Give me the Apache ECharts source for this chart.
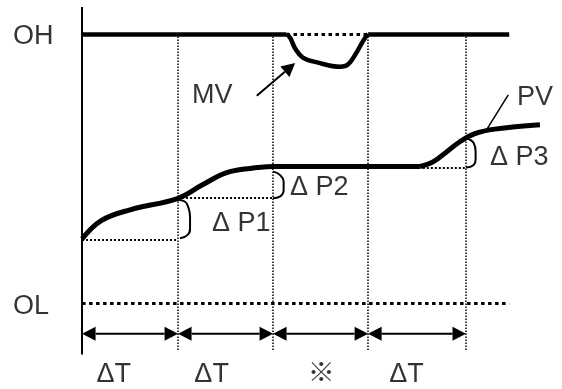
<!DOCTYPE html>
<html><head><meta charset="utf-8">
<script src="https://cdn.jsdelivr.net/npm/echarts@6/dist/echarts.min.js"></script>
<style>html,body{margin:0;padding:0;background:#fff}#c{width:562px;height:389px}</style>
</head><body><div id="c"></div>
<script>
// x: time in units of ΔT (0 = vertical axis); y: level in % (OL = 0, OH = 100)
const levelNames = ['OH', 'OL'];
const levelValues = [100, 0];
const dividerT = [1.0, 1.99, 2.98, 4.0];
const intervalLabels = ['ΔT', 'ΔT', '※', 'ΔT'];
const lineEndT = 4.45;

// MV: flat at OH, dip between these points
const mvDipT = [2.13, 2.17, 2.22, 2.3, 2.45, 2.69, 2.77, 2.85, 2.93, 2.98];
const mvDipY = [100, 98.4, 94.6, 91.2, 89.4, 87.8, 88.6, 92.5, 97.5, 100];

// PV: first rise, plateau, second rise
const pvRise1T = [0, 0.2, 0.5, 1.0, 1.25, 1.5, 1.75, 2.0];
const pvRise1Y = [23.8, 30.6, 34.6, 38.9, 43.8, 48.3, 50.0, 50.7];
const pvPlateauT = [2.0, 3.52];
const pvPlateauY = [50.7, 50.7];
const pvRise2T = [3.52, 3.66, 3.8, 3.94, 4.1, 4.3, 4.77];
const pvRise2Y = [50.7, 52.5, 56.2, 60.0, 63.0, 64.6, 66.2];

// ΔP reference levels: [startT, endT, level]
const dpRefs = [[0, 1.0, 23.4], [1.0, 1.99, 39.0], [3.55, 4.0, 50.2]];
// ΔP brackets
const bracket1T = [1.0, 1.07, 1.11, 1.125, 1.125, 1.1, 1.02];
const bracket1Y = [38.3, 37.7, 35.2, 32.1, 27.8, 25.3, 24.0];
const bracket2T = [1.99, 2.06, 2.1, 2.1, 2.06, 1.99];
const bracket2Y = [48.8, 47.6, 45.1, 42.0, 39.5, 38.9];
const bracket3T = [4.0, 4.08, 4.1, 4.1, 4.08, 4.0];
const bracket3Y = [61.2, 59.4, 56.2, 53.2, 51.3, 50.3];

const axisSpan = [-19.2, 110];
const dividerSpan = [-17.5, 99];
const arrowRowY = -11.5;
const mvArrow = [[1.82, 77.0], [2.22, 89.2]];
const pvPointer = [[4.44, 77.3], [4.22, 64.7]];

// text annotations
const labelT = [-0.72, -0.72, 1.146, 4.53, 1.354, 2.167, 4.25, 0.15, 1.17, 2.35, 3.2];
const labelY = [99.0, -1.5, 77, 76.2, 29.4, 42.9, 53.9, -26.6, -26.6, -26.6, -26.6];
const labelText = ['OH', 'OL', 'MV', 'PV', 'Δ P1', 'Δ P2', 'Δ P3'].concat(intervalLabels);

const zip = (a, b) => a.map((v, i) => [v, b[i]]);
const FONT = '"Liberation Sans", Arial, "Noto Sans CJK JP", sans-serif';

function arrowShapes(p1, p2, heads) {
  const dx = p2[0] - p1[0], dy = p2[1] - p1[1];
  const len = Math.sqrt(dx * dx + dy * dy), ux = dx / len, uy = dy / len;
  const L = 13.5, W = 7;
  const out = [];
  const a = heads.start ? [p1[0] + ux * L, p1[1] + uy * L] : p1;
  const b = heads.end ? [p2[0] - ux * L, p2[1] - uy * L] : p2;
  out.push({type: 'line', shape: {x1: a[0], y1: a[1], x2: b[0], y2: b[1]}, style: {stroke: '#000', lineWidth: 2}});
  const head = (tip, dir) => {
    const bx = tip[0] - dir[0] * L, by = tip[1] - dir[1] * L;
    return {type: 'polygon', shape: {points: [tip, [bx - dir[1] * W, by + dir[0] * W], [bx + dir[1] * W, by - dir[0] * W]]}, style: {fill: '#000'}};
  };
  if (heads.start) out.push(head(p1, [-ux, -uy]));
  if (heads.end) out.push(head(p2, [ux, uy]));
  return out;
}

const intervalStarts = [0].concat(dividerT.slice(0, -1));
const chart = echarts.init(document.getElementById('c'), null, {renderer: 'canvas'});
const seg = (coords, style) => ({type: 'lines', coordinateSystem: 'cartesian2d', silent: true, z: 2,
  lineStyle: Object.assign({color: '#000', opacity: 1, curveness: 0}, style), data: coords.map(c => ({coords: c}))});
const curve = (data, width, smooth) => ({type: 'line', data: data, smooth: smooth, symbol: 'none', silent: true, z: 3,
  lineStyle: {color: '#000', width: width, cap: 'butt', join: 'round'}});

chart.setOption({
  animation: false,
  grid: {left: 0, top: 0, width: 562, height: 389},
  xAxis: {type: 'value', min: -0.855, max: 5, show: false},
  yAxis: {type: 'value', min: -32, max: 112.6, show: false},
  series: [
    // vertical axis
    seg([[[0, axisSpan[0]], [0, axisSpan[1]]]], {width: 2}),
    // dividers
    seg(dividerT.map(t => [[t, dividerSpan[0]], [t, dividerSpan[1]]]), {width: 1.5, type: [1.5, 1.5]}),
    // OL line and OH dotted part under MV dip
    seg([[[0, levelValues[1]], [lineEndT, levelValues[1]]], [[mvDipT[0], levelValues[0]], [mvDipT[mvDipT.length - 1], levelValues[0]]]], {width: 3, type: [3.5, 3.5]}),
    // ΔP reference lines
    seg(dpRefs.map(r => [[r[0], r[2]], [r[1], r[2]]]), {width: 2, type: [2, 2]}),
    // PV pointer
    seg([pvPointer], {width: 1.5}),
    // MV flat parts at OH
    seg([[[0, levelValues[0]], [mvDipT[0], levelValues[0]]], [[mvDipT[mvDipT.length - 1], levelValues[0]], [lineEndT, levelValues[0]]]], {width: 4.5}),
    curve(zip(mvDipT, mvDipY), 4.5, 0.4),
    curve(zip(pvRise1T, pvRise1Y), 5, 0.4),
    curve(zip(pvPlateauT, pvPlateauY), 5, false),
    curve(zip(pvRise2T, pvRise2Y), 5, 0.4),
    curve(zip(bracket1T, bracket1Y), 2, 0.5),
    curve(zip(bracket2T, bracket2Y), 2, 0.5),
    curve(zip(bracket3T, bracket3Y), 2, 0.5),
    {
      type: 'custom', silent: true, z: 4,
      data: intervalStarts.map((s, i) => [s, dividerT[i], arrowRowY]),
      encode: {x: [0, 1], y: 2},
      renderItem: (params, api) => ({type: 'group', children: arrowShapes(
        api.coord([api.value(0), api.value(2)]), api.coord([api.value(1), api.value(2)]), {start: true, end: true})})
    },
    {
      type: 'custom', silent: true, z: 4,
      data: [[mvArrow[0][0], mvArrow[0][1], mvArrow[1][0], mvArrow[1][1]]],
      encode: {x: [0, 2], y: [1, 3]},
      renderItem: (params, api) => ({type: 'group', children: arrowShapes(
        api.coord([api.value(0), api.value(1)]), api.coord([api.value(2), api.value(3)]), {start: false, end: true})})
    },
    {
      type: 'scatter', silent: true, z: 5, symbolSize: 0,
      data: labelT.map((t, i) => ({value: [t, labelY[i]], name: labelText[i]})),
      label: {show: true, position: 'inside', align: 'left', verticalAlign: 'middle', formatter: '{b}',
        color: '#000', fontSize: 27, fontFamily: FONT}
    }
  ]
});
</script></body></html>
